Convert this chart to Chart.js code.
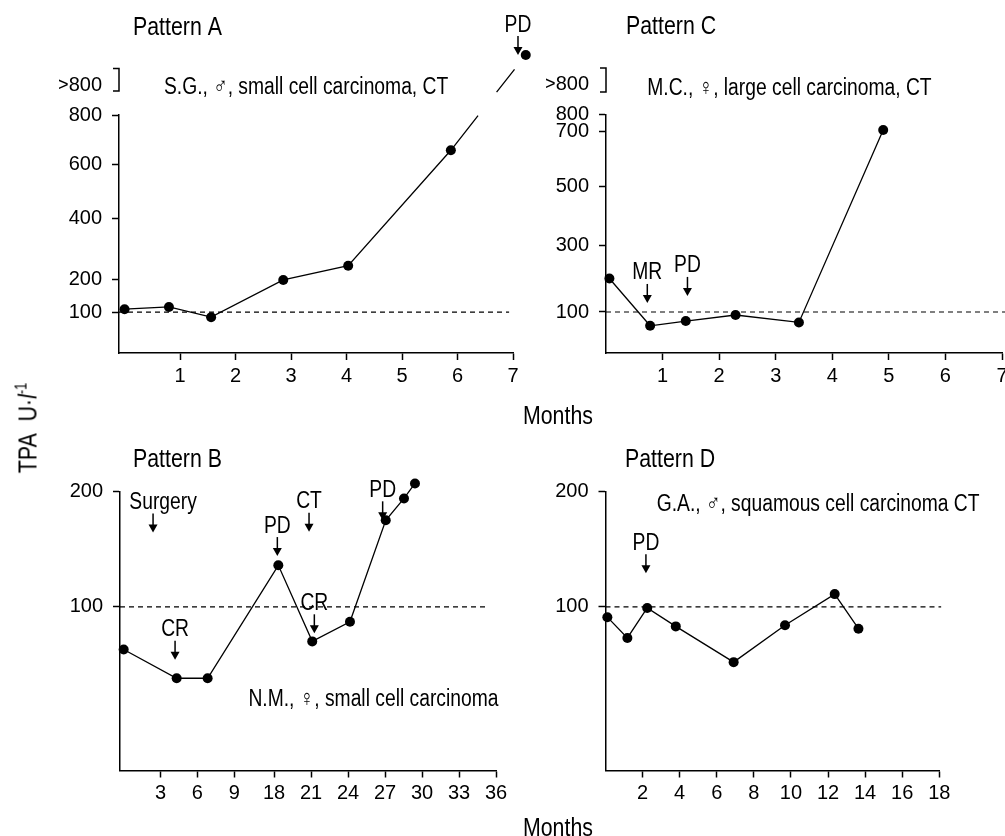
<!DOCTYPE html>
<html>
<head>
<meta charset="utf-8">
<script src="https://cdn.jsdelivr.net/npm/chart.js@4/dist/chart.umd.min.js"></script>
<style>
html, body { margin: 0; padding: 0; background: #fff; width: 1005px; height: 836px; overflow: hidden; }
canvas { position: absolute; }
.lbl { position: absolute; color: #000; white-space: nowrap; line-height: 1; font: 26px 'Liberation Sans', Arial, sans-serif; }
.months { transform-origin: 0 50%; transform: translateY(-50%) scaleX(0.82); }
#tpa { left: 28px; top: 428px; transform: translate(-50%, -50%) rotate(-90deg) scaleX(0.82); }
#tpa sup { font-size: 60%; }
</style>
</head>
<body>
<canvas id="cA" width="560" height="400" style="left:0;top:0"></canvas>
<canvas id="cC" width="520" height="400" style="left:500px;top:0"></canvas>
<canvas id="cB" width="520" height="406" style="left:0;top:430px"></canvas>
<canvas id="cD" width="485" height="406" style="left:520px;top:430px"></canvas>
<div class="lbl months" style="left:523px;top:415px">Months</div>
<div class="lbl months" style="left:523px;top:827px">Months</div>
<div class="lbl" id="tpa">TPA&nbsp;&nbsp;U·<i>l</i><sup>-1</sup></div>
<script>
const FONT = "'Liberation Sans', Arial, Helvetica, sans-serif";
Chart.defaults.font.family = FONT;
Chart.defaults.color = '#000';
const BIG = '26px ' + FONT;   // panel titles
const MID = '23.5px ' + FONT; // notes and event labels
const SQUEEZE = 0.82;         // the figure uses a condensed face

const REF = 100; // upper normal limit, dashed line

// Pattern A
const monthsA = [0, 0.8, 1.56, 2.86, 4.03, 5.88, 7.23];
const tpaA = [109, 116, 84, 200, 246, 656, 1000];
const xTicksA = [1, 2, 3, 4, 5, 6, 7];
const yTicksA = [100, 200, 400, 600, 800, 900];

// Pattern C
const monthsC = [0.06, 0.78, 1.41, 2.29, 3.41, 4.9];
const tpaC = [200, 59, 73, 91, 69, 706];
const xTicksC = [1, 2, 3, 4, 5, 6, 7];
const yTicksC = [100, 300, 500, 700, 800, 900];

// Pattern B
const monthsB = [0, 4.31, 6.83, 18.35, 21.1, 24.16, 27.06, 28.54, 29.43];
const tpaB = [63, 38, 38, 136, 70, 87, 175, 194, 207];
const xTicksB = [3, 6, 9, 18, 21, 24, 27, 30, 33, 36];
const yTicksB = [100, 200];

// Pattern D
const monthsD = [0.1, 1.18, 2.25, 3.79, 6.91, 9.68, 12.36, 13.64];
const tpaD = [91, 73, 99, 83, 52, 84, 111, 81];
const xTicksD = [2, 4, 6, 8, 10, 12, 14, 16, 18];
const yTicksD = [100, 200];

// broken axes: [value, fraction of axis length]
const yBreaksA = [[-28, 0], [100, 0.172], [200, 0.307], [400, 0.567], [600, 0.794], [800, 1], [1000, 1.252]];
const yBreaksC = [[-22, 0], [100, 0.1718], [300, 0.4524], [500, 0.6996], [700, 0.93], [800, 1], [1000, 1.25]];
const xBreaksB = [[-0.3, 0], [9, 0.304], [18, 0.4096], [36, 1]];

function warp(b, v) {
  let i = 1;
  while (i < b.length - 1 && v > b[i][0]) i++;
  const [v0, d0] = b[i - 1], [v1, d1] = b[i];
  return d0 + (v - v0) * (d1 - d0) / (v1 - v0);
}

class BrokenScale extends Chart.LinearScale {
  getPixelForValue(v) {
    if (v === null || v === undefined || isNaN(v)) return NaN;
    return this.getPixelForDecimal(warp(this._breaks, v));
  }
  getValueForPixel(p) {
    return warp(this._breaks.map(([v, d]) => [d, v]), this.getDecimalForPixel(p));
  }
}
BrokenScale.id = 'broken';
Chart.register(BrokenScale);

function axis(o) {
  return {
    type: o.breaks ? 'broken' : 'linear',
    min: o.min,
    max: o.max,
    afterDataLimits: s => { s._breaks = o.breaks; },
    afterBuildTicks: s => { s.ticks = o.ticks.map(v => ({ value: v })); },
    afterFit: s => { if (s.isHorizontal()) s.height = 40; else s.width = 60; },
    grid: {
      display: true, drawOnChartArea: false, tickLength: 7, tickWidth: 1.5, color: '#000',
      tickColor: c => (c.tick && c.tick.value > 800) ? 'rgba(0,0,0,0)' : '#000'
    },
    border: { display: true, color: '#000', width: 1.5 },
    ticks: {
      autoSkip: false, maxRotation: 0, minRotation: 0, padding: o.pad, color: '#000',
      font: { size: 20 },
      callback: v => v > 800 ? '>800' : String(v)
    }
  };
}

function text(ctx, s, x, y) {
  ctx.save();
  ctx.translate(x, y);
  ctx.scale(SQUEEZE, 1);
  ctx.fillText(s, 0, 0);
  ctx.restore();
}

function deco(p) {
  return {
    id: 'deco',
    afterDatasetsDraw(chart) {
      const { ctx, chartArea: a } = chart;
      const x = chart.scales.x, y = chart.scales.y;
      ctx.save();
      ctx.fillStyle = '#000';
      ctx.strokeStyle = '#000';
      // points that fall beyond the axes (off-scale values)
      chart.getDatasetMeta(0).data.forEach(pt => {
        if (pt.x > a.right || pt.y < a.top) {
          ctx.beginPath(); ctx.arc(pt.x, pt.y, 5, 0, Math.PI * 2); ctx.fill();
        }
      });
      ctx.textBaseline = 'middle';
      ctx.textAlign = 'left';
      ctx.font = BIG;
      text(ctx, p.title, a.left + p.titleAt[0], a.top - p.titleAt[1]);
      ctx.font = MID;
      text(ctx, p.note.text, x.getPixelForValue(p.note.x), y.getPixelForValue(p.note.y));
      ctx.textAlign = 'center';
      ctx.lineWidth = 1.5;
      p.arrows.forEach(ar => {
        const px = x.getPixelForValue(ar.x), py = y.getPixelForValue(ar.y);
        ctx.beginPath(); ctx.moveTo(px, py - 19); ctx.lineTo(px, py - 6); ctx.stroke();
        ctx.beginPath(); ctx.moveTo(px, py); ctx.lineTo(px - 4.5, py - 8); ctx.lineTo(px + 4.5, py - 8); ctx.closePath(); ctx.fill();
        text(ctx, ar.text, px + (ar.dx || 0), py - 30);
      });
      if (p.bracket) {
        const t = y.getPixelForValue(p.bracket[1]), b = y.getPixelForValue(p.bracket[0]);
        ctx.beginPath();
        ctx.moveTo(a.left - 6, t); ctx.lineTo(a.left, t); ctx.lineTo(a.left, b); ctx.lineTo(a.left - 6, b);
        ctx.stroke();
      }
      ctx.restore();
    }
  };
}

function panel(id, p) {
  const last = p.months.length - 1;
  new Chart(document.getElementById(id), {
    type: 'line',
    data: {
      datasets: [
        {
          data: p.months.map((m, i) => ({ x: m, y: p.tpa[i] })),
          borderColor: '#000', backgroundColor: '#000', borderWidth: 1.3,
          pointRadius: 5, pointBorderWidth: 0, pointBackgroundColor: '#000',
          tension: 0, clip: false,
          segment: { borderDash: c => (p.breakDash && c.p1DataIndex === last) ? p.breakDash : undefined }
        },
        {
          data: [{ x: p.ref[0], y: REF }, { x: p.ref[1], y: REF }],
          borderColor: '#000', borderWidth: 1.2, borderDash: [5, 4], pointRadius: 0, clip: false
        }
      ]
    },
    options: {
      responsive: false, animation: false, devicePixelRatio: 1, events: [],
      layout: { padding: p.pad },
      plugins: { legend: { display: false }, tooltip: { enabled: false } },
      scales: { x: axis(p.x), y: axis(p.y) }
    },
    plugins: [deco(p)]
  });
}

panel('cA', {
  months: monthsA, tpa: tpaA, ref: [-0.1, 6.93], breakDash: [44, 30, 29, 40],
  pad: { left: 59, top: 115, right: 47, bottom: 7 },
  x: { min: -0.1, max: 7, ticks: xTicksA, pad: 4 },
  y: { min: -28, max: 800, ticks: yTicksA, breaks: yBreaksA, pad: 10 },
  title: 'Pattern A', titleAt: [14, 87],
  note: { text: 'S.G., \u2642, small cell carcinoma, CT', x: 0.71, y: 890 },
  arrows: [{ text: 'PD', x: 7.09, y: 1000 }],
  bracket: [880, 955]
});

panel('cC', {
  months: monthsC, tpa: tpaC, ref: [0, 7.1],
  pad: { left: 46, top: 114.3, right: 18, bottom: 7 },
  x: { min: 0, max: 7, ticks: xTicksC, pad: 4 },
  y: { min: -22, max: 800, ticks: yTicksC, breaks: yBreaksC, pad: 10 },
  title: 'Pattern C', titleAt: [20, 87],
  note: { text: 'M.C., \u2640, large cell carcinoma, CT', x: 0.73, y: 885 },
  arrows: [{ text: 'MR', x: 0.73, y: 127 }, { text: 'PD', x: 1.44, y: 148 }],
  bracket: [875, 955]
});

panel('cB', {
  months: monthsB, tpa: tpaB, ref: [-0.3, 35.3],
  pad: { left: 60, top: 61.5, right: 24, bottom: 25.5 },
  x: { min: -0.3, max: 36, ticks: xTicksB, breaks: xBreaksB, pad: 4 },
  y: { min: -42, max: 200, ticks: yTicksB, pad: 10 },
  title: 'Pattern B', titleAt: [13, 32],
  note: { text: 'N.M., \u2640, small cell carcinoma', x: 12.2, y: 20 },
  arrows: [
    { text: 'Surgery', x: 2.39, y: 164.5, dx: 10 },
    { text: 'CR', x: 4.18, y: 54 },
    { text: 'PD', x: 18.27, y: 144 },
    { text: 'CT', x: 20.84, y: 165 },
    { text: 'CR', x: 21.27, y: 77 },
    { text: 'PD', x: 26.81, y: 175 }
  ]
});

panel('cD', {
  months: monthsD, tpa: tpaD, ref: [0, 18.1],
  pad: { left: 25.5, top: 61.5, right: 65.7, bottom: 25.5 },
  x: { min: 0, max: 18, ticks: xTicksD, pad: 4 },
  y: { min: -42, max: 200, ticks: yTicksD, pad: 10 },
  title: 'Pattern D', titleAt: [19.5, 31.5],
  note: { text: 'G.A., \u2642, squamous cell carcinoma CT', x: 2.76, y: 189 },
  arrows: [{ text: 'PD', x: 2.18, y: 129 }]
});
</script>
</body>
</html>
